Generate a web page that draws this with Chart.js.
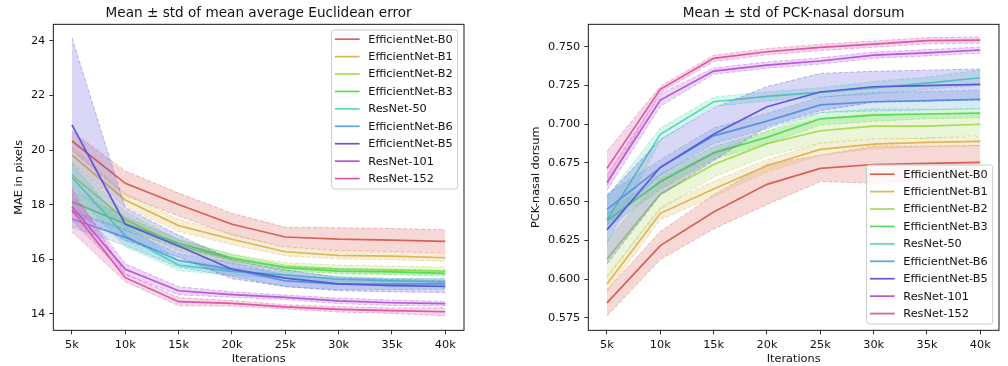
<!DOCTYPE html>
<html><head><meta charset="utf-8">
<script src="https://cdn.jsdelivr.net/npm/chart.js@4.4.0/dist/chart.umd.min.js"></script>
<style>
html,body{margin:0;padding:0;background:#fff;width:1008px;height:366px;overflow:hidden}
canvas{position:absolute;top:0}
#c1{left:0}
#c2{left:504px}
</style></head><body>
<canvas id="c1" width="504" height="366"></canvas>
<canvas id="c2" width="504" height="366"></canvas>
<script>
// ---------- data ----------
const iterations = [5000, 10000, 15000, 20000, 25000, 30000, 35000, 40000];
const seriesNames = ["EfficientNet-B0","EfficientNet-B1","EfficientNet-B2","EfficientNet-B3","ResNet-50","EfficientNet-B6","EfficientNet-B5","ResNet-101","ResNet-152"];
const maeTicks = [14, 16, 18, 20, 22, 24];
const pckTicks = [0.575, 0.600, 0.625, 0.650, 0.675, 0.700, 0.725, 0.750];

// Mean average Euclidean error (mean, std)
const maeB0 = [20.33, 18.78, 18.00, 17.28, 16.81, 16.73, 16.70, 16.65];
const maeB0Std = [0.35, 0.45, 0.42, 0.40, 0.36, 0.42, 0.42, 0.43];
const maeB1 = [19.81, 18.17, 17.23, 16.73, 16.27, 16.14, 16.11, 16.05];
const maeB1Std = [0.30, 0.25, 0.22, 0.20, 0.15, 0.13, 0.13, 0.13];
const maeB2 = [19.08, 17.45, 16.50, 16.00, 15.72, 15.63, 15.60, 15.56];
const maeB2Std = [0.45, 0.30, 0.20, 0.18, 0.15, 0.15, 0.15, 0.15];
const maeB3 = [18.10, 17.30, 16.58, 16.05, 15.68, 15.56, 15.53, 15.48];
const maeB3Std = [0.40, 0.25, 0.15, 0.12, 0.10, 0.10, 0.10, 0.10];
const maeR50 = [19.00, 16.85, 15.78, 15.55, 15.42, 15.27, 15.20, 15.17];
const maeR50Std = [0.50, 0.40, 0.20, 0.15, 0.12, 0.10, 0.10, 0.10];
const maeB6 = [17.47, 16.80, 15.95, 15.62, 15.20, 15.08, 15.08, 15.10];
const maeB6Std = [0.30, 0.30, 0.25, 0.25, 0.22, 0.20, 0.20, 0.20];
const maeB5 = [20.92, 17.28, 16.48, 15.63, 15.30, 15.09, 15.03, 15.00];
const maeB5Std = [3.20, 0.60, 0.40, 0.35, 0.30, 0.25, 0.23, 0.22];
const maeR101 = [17.92, 15.63, 14.84, 14.70, 14.60, 14.47, 14.40, 14.37];
const maeR101Std = [0.50, 0.20, 0.15, 0.10, 0.08, 0.10, 0.10, 0.08];
const maeR152 = [17.80, 15.32, 14.44, 14.38, 14.25, 14.16, 14.11, 14.07];
const maeR152Std = [0.80, 0.15, 0.15, 0.10, 0.08, 0.10, 0.10, 0.15];

// PCK-nasal dorsum (mean, std)
const pckB0 = [0.5847, 0.6217, 0.6434, 0.6612, 0.6715, 0.6740, 0.6748, 0.6754];
const pckB0Std = [0.0085, 0.0090, 0.0110, 0.0130, 0.0085, 0.0120, 0.0110, 0.0110];
const pckB1 = [0.5969, 0.6425, 0.6582, 0.6732, 0.6838, 0.6872, 0.6883, 0.6890];
const pckB1Std = [0.0050, 0.0040, 0.0050, 0.0040, 0.0040, 0.0030, 0.0030, 0.0030];
const pckB2 = [0.6130, 0.6550, 0.6740, 0.6875, 0.6958, 0.6988, 0.6988, 0.7000];
const pckB2Std = [0.0120, 0.0100, 0.0080, 0.0080, 0.0080, 0.0080, 0.0080, 0.0070];
const pckB3 = [0.6378, 0.6629, 0.6815, 0.6915, 0.7035, 0.7059, 0.7066, 0.7072];
const pckB3Std = [0.0050, 0.0050, 0.0040, 0.0040, 0.0040, 0.0040, 0.0030, 0.0030];
const pckR50 = [0.6382, 0.6935, 0.7145, 0.7180, 0.7205, 0.7235, 0.7265, 0.7300];
const pckR50Std = [0.0150, 0.0040, 0.0030, 0.0030, 0.0030, 0.0040, 0.0040, 0.0050];
const pckB6 = [0.6450, 0.6720, 0.6925, 0.7020, 0.7125, 0.7145, 0.7152, 0.7160];
const pckB6Std = [0.0100, 0.0050, 0.0050, 0.0050, 0.0050, 0.0060, 0.0060, 0.0060];
const pckB5 = [0.6318, 0.6722, 0.6935, 0.7113, 0.7208, 0.7242, 0.7249, 0.7257];
const pckB5Std = [0.0220, 0.0180, 0.0170, 0.0130, 0.0120, 0.0100, 0.0100, 0.0100];
const pckR101 = [0.6623, 0.7156, 0.7343, 0.7382, 0.7408, 0.7446, 0.7461, 0.7479];
const pckR101Std = [0.0050, 0.0040, 0.0020, 0.0020, 0.0020, 0.0020, 0.0020, 0.0020];
const pckR152 = [0.6715, 0.7225, 0.7425, 0.7468, 0.7496, 0.7517, 0.7539, 0.7543];
const pckR152Std = [0.0110, 0.0020, 0.0020, 0.0020, 0.0020, 0.0020, 0.0020, 0.0020];

// ---------- styles ----------
const seriesColors = ["#db5f57","#dbb757","#a7db57","#57db5f","#57dbb7","#57a7db","#5f57db","#b757db","#db57a7"];
const FONT = '"DejaVu Sans", sans-serif';
const TXT = '#111';

function rgba(hex, a) {
  const n = parseInt(hex.slice(1), 16);
  return `rgba(${(n>>16)&255},${(n>>8)&255},${n&255},${a})`;
}

function buildDatasets(means, stds) {
  const ds = [];
  means.forEach((m, s) => {
    const col = seriesColors[s];
    const base = ds.length;
    ds.push({ label: '_lo', data: m.map((v,i)=>({x: iterations[i], y: v - stds[s][i]})),
      borderColor: rgba(col,0.4), borderWidth: 1, borderDash: [4,2], pointRadius: 0, fill: false, order: 1000 - base });
    ds.push({ label: '_hi', data: m.map((v,i)=>({x: iterations[i], y: v + stds[s][i]})),
      borderColor: rgba(col,0.4), borderWidth: 1, borderDash: [4,2], pointRadius: 0,
      fill: '-1', backgroundColor: rgba(col,0.24), order: 1000 - base - 1 });
    ds.push({ label: seriesNames[s], data: m.map((v,i)=>({x: iterations[i], y: v})),
      borderColor: col, borderWidth: 1.7, pointRadius: 0, fill: false, order: 1000 - base - 2 });
  });
  return ds;
}

const decor = {
  id: 'decor',
  afterDraw(chart, args, opts) {
    const {ctx, chartArea: ca} = chart;
    ctx.save();
    ctx.strokeStyle = '#000'; ctx.lineWidth = 0.9;
    ctx.strokeRect(ca.left, ca.top, ca.right - ca.left, ca.bottom - ca.top);
    ctx.fillStyle = TXT;
    ctx.font = '13.6px ' + FONT;
    ctx.textAlign = 'center'; ctx.textBaseline = 'alphabetic';
    ctx.fillText(opts.title, (ca.left + ca.right) / 2, 17.3);
    ctx.font = '11.3px ' + FONT;
    let maxW = 0;
    seriesNames.forEach(n => { maxW = Math.max(maxW, ctx.measureText(n).width); });
    const w = 36.7 + maxW + 5, h = 159, rowH = 17.42;
    const x = ca.right - 6.3 - w;
    const y = opts.legend === 'top' ? ca.top + 5.7 : ca.bottom - 6.3 - h;
    const r = 2.5;
    ctx.beginPath();
    ctx.moveTo(x + r, y); ctx.lineTo(x + w - r, y); ctx.arcTo(x + w, y, x + w, y + r, r);
    ctx.lineTo(x + w, y + h - r); ctx.arcTo(x + w, y + h, x + w - r, y + h, r);
    ctx.lineTo(x + r, y + h); ctx.arcTo(x, y + h, x, y + h - r, r);
    ctx.lineTo(x, y + r); ctx.arcTo(x, y, x + r, y, r); ctx.closePath();
    ctx.fillStyle = 'rgba(255,255,255,0.8)'; ctx.fill();
    ctx.strokeStyle = '#cccccc'; ctx.lineWidth = 1; ctx.stroke();
    ctx.textAlign = 'left'; ctx.textBaseline = 'middle';
    seriesNames.forEach((n, i) => {
      const cy = y + 9.2 + i * rowH;
      ctx.strokeStyle = seriesColors[i]; ctx.lineWidth = 1.7;
      ctx.beginPath(); ctx.moveTo(x + 3.3, cy); ctx.lineTo(x + 28, cy); ctx.stroke();
      ctx.fillStyle = TXT;
      ctx.fillText(n, x + 36.7, cy + 0.5);
    });
    ctx.restore();
  }
};

function makeChart(id, c) {
  return new Chart(document.getElementById(id), {
    type: 'line',
    data: { datasets: buildDatasets(c.means, c.stds) },
    plugins: [decor],
    options: {
      responsive: false, animation: false, devicePixelRatio: 1, events: [],
      layout: { padding: { left: 0, right: c.padRight, top: 24.3, bottom: 0 } },
      elements: { line: { tension: 0 } },
      plugins: { legend: { display: false }, tooltip: { enabled: false }, title: { display: false },
        decor: { title: c.title, legend: c.legend } },
      scales: {
        x: {
          type: 'linear', min: 3250, max: 41750,
          afterBuildTicks: s => { s.ticks = iterations.map(v => ({ value: v })); },
          afterFit: s => { s.height = 35.7; },
          ticks: { callback: v => (v / 1000) + 'k', font: { family: FONT, size: 11.3 }, color: TXT, padding: 4, maxRotation: 0, autoSkip: false },
          grid: { display: true, drawOnChartArea: false, drawTicks: true, tickLength: 4, color: '#000', lineWidth: 0.8 },
          border: { display: false },
          title: { display: true, text: 'Iterations', font: { family: FONT, size: 11.3 }, color: TXT, padding: { top: 0, bottom: 0.2 } }
        },
        y: {
          type: 'linear', min: c.yMin, max: c.yMax,
          afterBuildTicks: s => { s.ticks = c.yTicks.map(v => ({ value: v })); },
          afterFit: s => { s.width = c.yWidth; },
          ticks: { callback: c.yFmt, font: { family: FONT, size: 11.3 }, color: TXT, padding: 4, autoSkip: false },
          grid: { display: true, drawOnChartArea: false, drawTicks: true, tickLength: 4, color: '#000', lineWidth: 0.8 },
          border: { display: false },
          title: { display: true, text: c.yLabel, font: { family: FONT, size: 11.3 }, color: TXT, padding: { top: c.yTitlePad, bottom: 0 } }
        }
      }
    }
  });
}

makeChart('c1', {
  title: 'Mean \u00b1 std of mean average Euclidean error', legend: 'top',
  yLabel: 'MAE in pixels', yMin: 13.39, yMax: 24.61, yTicks: maeTicks, yFmt: v => String(v),
  yWidth: 53.3, yTitlePad: 12.5, padRight: 40,
  means: [maeB0, maeB1, maeB2, maeB3, maeR50, maeB6, maeB5, maeR101, maeR152],
  stds: [maeB0Std, maeB1Std, maeB2Std, maeB3Std, maeR50Std, maeB6Std, maeB5Std, maeR101Std, maeR152Std]
});

makeChart('c2', {
  title: 'Mean \u00b1 std of PCK-nasal dorsum', legend: 'bottom',
  yLabel: 'PCK-nasal dorsum', yMin: 0.567, yMax: 0.7645, yTicks: pckTicks, yFmt: v => v.toFixed(3),
  yWidth: 84.3, yTitlePad: 24.9, padRight: 9,
  means: [pckB0, pckB1, pckB2, pckB3, pckR50, pckB6, pckB5, pckR101, pckR152],
  stds: [pckB0Std, pckB1Std, pckB2Std, pckB3Std, pckR50Std, pckB6Std, pckB5Std, pckR101Std, pckR152Std]
});
</script>
</body></html>
